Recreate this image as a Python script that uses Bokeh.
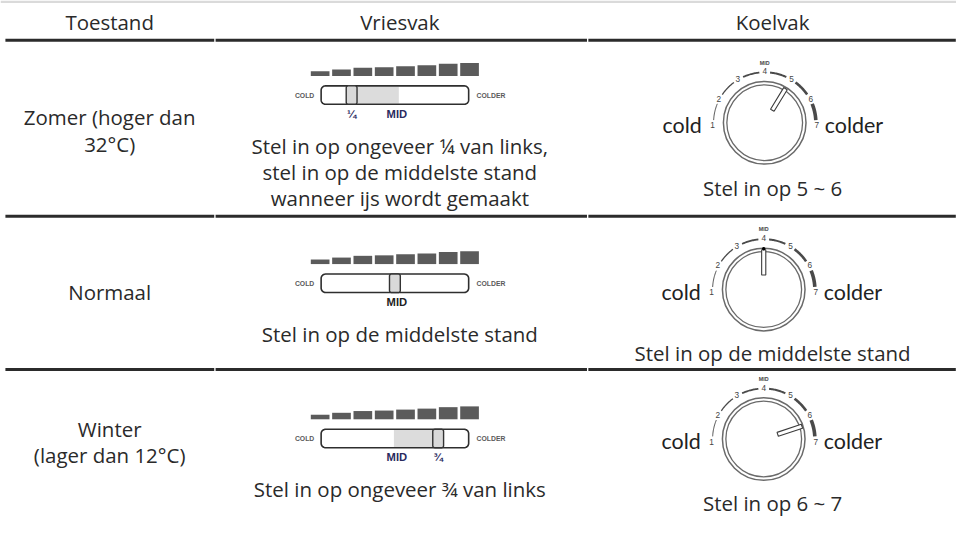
import numpy as np
from bokeh.plotting import figure
from bokeh.models import Range1d
from bokeh.core.properties import value
from bokeh.embed import file_html
from bokeh.resources import INLINE

# ---------------- data ----------------
headers = ["Toestand", "Vriesvak", "Koelvak"]
conditions = [["Zomer (hoger dan", "32°C)"], ["Normaal"], ["Winter", "(lager dan 12°C)"]]
freezer_text = [["Stel in op ongeveer ¼ van links,", "stel in op de middelste stand", "wanneer ijs wordt gemaakt"],
                ["Stel in op de middelste stand"],
                ["Stel in op ongeveer ¾ van links"]]
fridge_text = ["Stel in op 5 ~ 6", "Stel in op de middelste stand", "Stel in op 6 ~ 7"]
slider_pos = [0.25, 0.5, 0.75]          # freezer slider setting (fraction from left)
slider_label = ["¼", "", "¾"]
mid_pos = 0.5
bar_levels = [4.7, 6.7, 8.5, 9.0, 10.0, 11.0, 12.5, 13.3]   # cold-level bars above slider
dial_numbers = [1, 2, 3, 4, 5, 6, 7]
dial_setting = [5.0, 4.0, 6.3]           # fridge dial pointer setting
arc_widths = [1.0, 1.3, 1.8, 2.0, 2.6, 3.6]

# ---------------- layout (reference pixel space) ----------------
FONT = "Open Sans"
DIAL_FONT = "Lato"
TXT = "#2a2a2a"
REF_W, REF_H = 972, 535
W, H = 956, 519
FS = 0.975   # font scale (figure px / reference px)

p = figure(width=W, height=H, output_backend="svg", toolbar_location=None,
           x_range=Range1d(0, REF_W), y_range=Range1d(REF_H, 0),
           min_border=0, outline_line_color=None)
p.axis.visible = False
p.grid.visible = False
p.background_fill_color = "white"

col_x = [111, 406, 785]
col_breaks = [5, 218, 597, 972]
sep_y = [41, 222.5, 380.5]
row_slider_y = [97.5, 291.5, 451.5]
dial_c = [(777, 126), (776, 298), (776, 452)]
fridge_y = [193, 363, 518]
cond_y = [[120, 148], [301], [442, 469]]

def txt(x, y, s, size, color=TXT, align="center", font=FONT, style="normal"):
    p.text(x=[x], y=[y], text=[s], text_font=value(font), text_font_size=f"{size * FS:.2f}px",
           text_color=color, text_align=align, text_baseline="middle", text_font_style=style)

# faint top rule
p.quad(left=[0], right=[REF_W], top=[0], bottom=[2.5], fill_color="#dadada", line_color=None)

# header
for x, h in zip(col_x, headers):
    txt(x, 22, h, 21)

# separator lines (three segments each)
for y in sep_y:
    xs = [[col_breaks[i] + (0.7 if i else 0), col_breaks[i + 1] - 0.7] for i in range(3)]
    p.multi_line(xs=xs, ys=[[y, y]] * 3, line_color="#2b2b2b", line_width=3)

# condition texts
for lines, ys in zip(conditions, cond_y):
    for s, y in zip(lines, ys):
        txt(col_x[0], y, s, 21)

def rounded_rect(x0, y0, x1, y1, r):
    pts = []
    corners = [(x1 - r, y0 + r, -90, 0), (x1 - r, y1 - r, 0, 90),
               (x0 + r, y1 - r, 90, 180), (x0 + r, y0 + r, 180, 270)]
    for cx, cy, a0, a1 in corners:
        a = np.radians(np.linspace(a0, a1, 8))
        pts += list(zip(cx + r * np.cos(a), cy + r * np.sin(a)))
    xs, ys = zip(*pts)
    return list(xs), list(ys)

TRACK_X0, TRACK_X1 = 326, 476
SCALE_X0, SCALE_W = 313, 176
def sx(pos):
    return SCALE_X0 + SCALE_W * pos

bar_x = [325 + 21.7 * i for i in range(len(bar_levels))]

for r in range(3):
    cy = row_slider_y[r]
    t0, t1 = cy - 9.5, cy + 9.5
    base = cy - 19.8
    p.vbar(x=bar_x, width=19, bottom=base, top=[base - h for h in bar_levels],
           fill_color="#5b5b5b", line_color=None)
    kx = sx(slider_pos[r]); mx = sx(mid_pos)
    if abs(kx - mx) > 1:
        lo, hi = min(kx, mx), max(kx, mx) + (4 if kx < mx else 0)
        lo = lo - (1 if kx > mx else 0)
        p.quad(left=[lo], right=[hi], top=[t0 + 0.8], bottom=[t1 - 0.8], fill_color="#dcdcdc", line_color=None)
    xs, ys = rounded_rect(TRACK_X0, t0, TRACK_X1, t1, 4.5)
    p.patch(xs, ys, fill_color=None, line_color="#2e2e2e", line_width=1.6)
    kxs, kys = rounded_rect(kx - 5.5, t0, kx + 5.5, t1, 2)
    p.patch(kxs, kys, fill_color="#d9d9d9", line_color="#333333", line_width=1.4)
    txt(TRACK_X0 - 7, cy, "COLD", 7, color="#5a5a5a", align="right", font="Liberation Sans", style="bold")
    txt(TRACK_X1 + 8, cy, "COLDER", 7, color="#5a5a5a", align="left", font="Liberation Sans", style="bold")
    mid_col = "#222222" if r == 1 else "#2a2a5e"
    txt(mx + 2, cy + 19.5, "MID", 11.5, color=mid_col, font="Liberation Sans", style="bold")
    if slider_label[r]:
        txt(kx, cy + 19.5, slider_label[r], 11.5, color="#2a2a5e", font="Liberation Sans", style="bold")
    for i, s in enumerate(freezer_text[r]):
        txt(col_x[1], cy + 52.5 + 27 * i, s, 21)

# dials
def ang(s):
    return np.radians(183 - 31 * (s - 1))

for r in range(3):
    cx, cy = dial_c[r]
    p.circle(x=[cx], y=[cy], radius=42, fill_color="white", line_color="#6a6a6a", line_width=1.5)
    p.circle(x=[cx], y=[cy], radius=38.5, fill_color=None, line_color="#6a6a6a", line_width=1.3)
    axs, ays = [], []
    for n in range(len(dial_numbers) - 1):
        a = np.linspace(ang(dial_numbers[n]) - np.radians(6), ang(dial_numbers[n + 1]) + np.radians(6), 20)
        axs.append(list(cx + 52 * np.cos(a))); ays.append(list(cy - 52 * np.sin(a)))
    p.multi_line(xs=axs, ys=ays, line_color="#4a4a4a", line_width=arc_widths)
    for n in dial_numbers:
        a = ang(n)
        txt(cx + 53 * np.cos(a), cy - 53 * np.sin(a), str(n), 8.5, color="#444444", font="Liberation Sans")
    txt(cx, cy - 62, "MID", 5.5, color="#444444", font="Liberation Sans", style="bold")
    a = ang(dial_setting[r]); u = np.array([np.cos(a), -np.sin(a)]); v = np.array([np.sin(a), np.cos(a)]) * 2.1
    c = np.array([cx, cy])
    pts = [c + u * 15 + v, c + u * 41 + v, c + u * 41 - v, c + u * 15 - v]
    p.patch([q[0] for q in pts], [q[1] for q in pts], fill_color="white", line_color="#3c3c3c", line_width=1.1)
    if r == 1:
        tip = c + u * 42
        p.scatter(x=[tip[0]], y=[tip[1]], size=3.5, fill_color="black", line_color=None)
    txt(cx - 64, cy + 2, "cold", 22, color="#222222", align="right", font=DIAL_FONT)
    txt(cx + 61, cy + 2, "colder", 22, color="#222222", align="left", font=DIAL_FONT)
    txt(col_x[2], fridge_y[r], fridge_text[r], 21)

open("out.html", "w").write(file_html(p, INLINE))
